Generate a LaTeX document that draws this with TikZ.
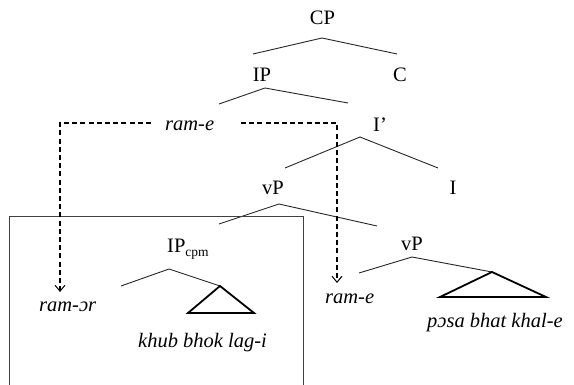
\documentclass[tikz,border=0pt]{standalone}
\usepackage{fontspec}
\setmainfont{Liberation Serif}
\usetikzlibrary{arrows.meta}
\begin{document}
\begin{tikzpicture}[x=1pt,y=-1pt,
  lab/.style={font=\fontsize{20.5}{24}\selectfont, inner sep=0pt, anchor=base},
  ilab/.style={lab, font=\fontsize{20.5}{24}\selectfont\itshape, anchor=base west},
  branch/.style={line width=0.9pt, black!85},
  tri/.style={line width=1.8pt, line join=miter},
  frame/.style={line width=0.9pt, black!75},
  mv/.style={dashed, dash pattern=on 5pt off 3.2pt, line width=1.1pt,
    -{Straight Barb[length=6pt,width=10pt,line width=1pt]}}]
\useasboundingbox (0,0) rectangle (574,385);

% category labels
\node[lab] (cp)  at (322.5,25) {CP};
\node[lab] (ip)  at (262,82) {IP};
\node[lab] (c)   at (400,82) {C};
\node[ilab] (rame) at (165,131) {ram-e};
\node[lab] (ibar) at (380,132) {I’};
\node[lab] (vp)  at (273,195) {vP};
\node[lab] (i)   at (453,195) {I};
\node[lab, anchor=base west] (ipcpm) at (167,253) {IP\raisebox{-0.35ex}{\fontsize{13.5}{14}\selectfont cpm}};
\node[lab] (vp2) at (412,251) {vP};
\node[ilab] (ramor) at (39,312) {ram-ɔr};
\node[ilab] (khub)  at (138,348) {khub bhok lag-i};
\node[ilab] (rame2) at (325,304) {ram-e};
\node[ilab] (posa)  at (427,327) {pɔsa bhat khal-e};

% branching points
\coordinate (cpA) at (322,38);  \coordinate (cpL) at (253,54);  \coordinate (cpR) at (397,54);
\coordinate (ipA) at (265,88);  \coordinate (ipL) at (219,104); \coordinate (ipR) at (348,103);
\coordinate (ibA) at (360,137); \coordinate (ibL) at (285,168); \coordinate (ibR) at (438,168);
\coordinate (vpA) at (279,204); \coordinate (vpL) at (219,224); \coordinate (vpR) at (377,226);
\coordinate (cmA) at (169,269); \coordinate (cmL) at (121,286); \coordinate (cmR) at (220,286);
\coordinate (v2A) at (412,257); \coordinate (v2L) at (359,273); \coordinate (v2R) at (492,272);

\draw[branch] (cpL) -- (cpA) -- (cpR);
\draw[branch] (ipL) -- (ipA) -- (ipR);
\draw[branch] (ibL) -- (ibA) -- (ibR);
\draw[branch] (vpL) -- (vpA) -- (vpR);
\draw[branch] (cmL) -- (cmA) -- (cmR);
\draw[branch] (v2L) -- (v2A) -- (v2R);

% triangles over unanalysed strings
\draw[tri] (cmR) -- (188,313) -- (254,313) -- cycle;
\draw[tri] (v2R) -- (440,297) -- (546,297) -- cycle;

% boxed embedded clause
\draw[frame] (9,390) -- (9,216) -- (303,216) -- (303,390);

% movement paths from the raised subject
\coordinate (dl) at (151,123);
\coordinate (dr) at (241,123);
\coordinate (tipL) at (60,292);
\coordinate (tipR) at (337,283);
\draw[mv] (dl) -| (tipL);
\draw[mv] (dr) -| (tipR);
\end{tikzpicture}
\end{document}
